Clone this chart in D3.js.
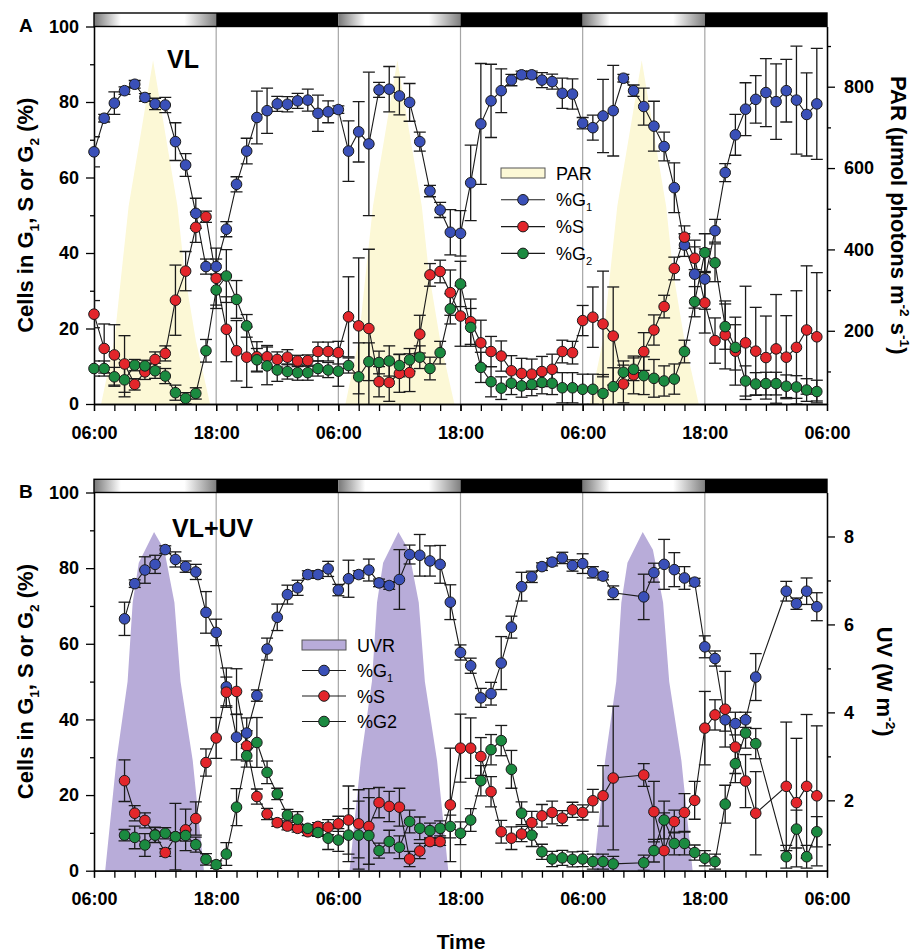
<!DOCTYPE html>
<html><head><meta charset="utf-8">
<script src="https://cdn.jsdelivr.net/npm/d3@7"></script>
<style>
body{margin:0;background:#fff}
svg{display:block}
text{font-family:Arial,"Liberation Sans",Helvetica,sans-serif}
</style>
</head><body>
<svg id="c" width="912" height="952"></svg>
<script>
// ---------------- DATA ----------------
const X_TICKS = [0,12,24,36,48,60,72];
const X_LABELS = ["06:00","18:00","06:00","18:00","06:00","18:00","06:00"];
const X_MINOR = [0,2,4,6,8,10,12,14,16,18,20,22,24,26,28,30,32,34,36,38,40,42,44,46,48,50,52,54,56,58,60,62,64,66,68,70,72];
const GRID_HOURS = [12,24,36,48,60];
const PERIOD_START = [0,12,24,36,48,60];
const PERIOD_TYPE = ["day","night","day","night","day","night"];
const Y_TICKS = [0,20,40,60,80,100];
const Y_MINOR = [10,30,50,70,90];

// Panel A (VL)
const HOURS_A = [0,1,2,3,4,5,6,7,8,9,10,11,12,13,14,15,16,17,18,19,20,21,22,23,24,25,26,27,28,29,30,31,32,33,34,35,36,37,38,39,40,41,42,43,44,45,46,47,48,49,50,51,52,53,54,55,56,57,58,59,60,61,62,63,64,65,66,67,68,69,70,71];
const G1_A = [66.8,75.7,79.7,83.0,84.7,81.2,79.5,79.2,69.5,63.3,
  50.5,36.4,36.4,46.3,58.2,67.0,75.9,77.7,79.5,79.4,
  80.3,80.5,77.0,77.4,78.0,67.0,72.1,68.9,83.2,83.4,
  81.6,79.9,69.5,56.4,51.4,45.5,45.2,58.6,74.2,80.3,
  83.0,85.8,87.2,87.2,85.8,85.4,82.3,82.1,74.4,73.2,
  76.3,77.7,86.3,83.0,78.8,73.6,68.2,57.3,42.1,34.4,
  33.1,45.9,61.3,71.3,78.1,80.7,82.5,80.1,83.0,80.5,
  76.7,79.5];
const G1_A_ERR = [4,1,3,1,1,1,1.5,2,5,3,
  4,2,2,2,2,3.4,7,6,2,2,
  2,2.9,4.8,2.9,1,8,8,19,2,6,
  5,5,2.5,1.5,2,6,6,10,16,9.7,
  5.8,1.5,1,1,2,2,4,4,1.5,3.3,
  9.7,12,1,1.5,4.9,6.6,3.8,6.6,3,9,
  8,3,2.4,5.4,7,6.3,9,10,8.3,14.3,
  11,14.7];
const S_A = [23.8,14.7,13.0,10.6,5.2,8.5,11.8,13.4,27.5,35.2,
  46.8,49.6,33.3,19.8,14.1,12.4,12.5,12.5,11.8,12.4,
  11.4,11.5,13.9,13.9,13.6,23.1,20.7,20.0,5.9,5.7,
  8.1,8.3,18.5,34.2,35.1,29.5,23.3,21.8,16.2,13.9,
  12.7,8.8,8.1,7.9,8.6,9.2,13.9,13.6,22.1,23.0,
  21.2,18.0,5.3,7.7,13.9,19.6,25.8,35.9,44.2,38.6,
  26.8,16.8,18.3,14.0,16.2,14.0,12.3,14.6,12.4,15.0,
  19.6,17.8];
const S_A_ERR = [3.6,6.5,8,7.5,1.5,2,2,2,9.3,5.2,
  4,1.5,8,8.6,8,8,4,3,2,2,
  1.5,1.5,2.5,2.5,3,10.6,18,21,4,5,
  5,5,5,3,3,6,8,6,6,4,
  4,4,4,4,4,4,3,3,4,8,
  14,13,5,5,5,4,3,3,3,3,
  8,6,9,9,15,11.6,11,14.4,11,15,
  17,17];
const G2_A = [9.4,9.4,7.2,6.4,10.3,10.1,8.8,7.4,3.0,1.5,
  2.8,14.1,30.2,33.9,27.7,20.7,11.7,10.1,9.0,8.6,
  8.3,8.3,9.4,9.0,8.7,10.2,7.2,11.2,11.0,11.4,
  10.2,11.7,12.4,9.4,13.6,25.2,31.8,20.3,9.7,5.9,
  4.2,5.5,4.8,5.2,5.7,5.5,4.3,4.3,3.9,3.9,
  2.8,4.6,8.4,9.2,7.5,6.8,6.1,6.6,13.9,27.1,
  40.1,37.4,20.5,15.0,6.1,5.3,5.4,5.4,4.7,4.5,
  3.7,3.3];
const G2_A_ERR = [2,2,2.5,4.5,1.5,1.5,2,2,2,1.5,
  1.5,3,4,7,5,3,3,5,3,2,
  2,2,2,2,4,2,9,5,3,4,
  3,3,3,3,3,4,6,5,4,4,
  3,3,3,3,3,3,4,4,4,4,
  5,5,3,3,5,5,4,4,3,4,
  5,5,6,6,4,3,3,3,3,3,
  3,3];
// PAR (µmol photons m-2 s-1), null separates days
const PAR_HOURS = [0.7,2.0,2.7,3.4,4.5,5.8,7.1,8.2,8.9,10.0,11.4, 11.5,
  24.7,26.0,26.7,27.4,28.5,29.8,31.1,32.2,32.9,34.0,35.4, 35.5,
  48.7,50.0,50.7,51.4,52.5,53.8,55.1,56.2,56.9,58.0,59.4];
const PAR_VALUES = [20,177,342,506,670,865,670,506,342,177,20, null,
  20,177,342,506,670,865,670,506,342,177,20, null,
  20,177,342,506,670,865,670,506,342,177,20];

// Panel B (VL+UV)
const HOURS_B = [3,4,5,6,7,8,9,10,11,12,13,14,15,16,17,18,19,20,21,22,23,24,25,26,27,28,29,30,31,32,33,34,35,36,37,38,39,40,41,42,43,44,45,46,47,48,49,50,51,
  54,55,56,57,58,59,60,61,62,63,64,65,68,69,70,71];
const G1_B = [66.6,75.9,79.5,81.0,84.9,82.3,80.4,79.0,68.3,63.0,
  48.6,35.3,36.4,46.3,58.6,67.0,73.0,74.8,78.3,78.3,
  79.8,74.2,77.2,78.3,79.5,76.1,75.4,77.0,83.6,83.4,
  81.9,81.0,71.0,57.7,54.2,45.7,46.8,54.9,64.4,75.1,
  77.7,80.4,81.6,82.7,80.7,81.2,78.9,77.9,73.5,
  72.4,78.8,81.0,79.6,77.4,76.3,59.2,56.1,39.9,38.9,39.9,51.2,
  73.9,70.6,73.9,69.8];
const G1_B_ERR = [4.4,1,3.5,2.4,1,2,1.5,2,5.5,3.5,
  5,6,4,1.5,2.9,3.5,2.5,2,1,1,
  2,1.5,4.9,1,2.9,1,1,7.9,2.5,5.5,
  4,5,4.6,2,2,2.5,3,7,2.9,3.8,
  1.5,1,1,1.5,1.5,2.6,1.5,1,1.8,
  6,2.5,6.6,4.5,3,1,2.9,2,3,3,2,6.2,
  2.6,1.5,3.5,3.7];
const S_B = [23.8,15.2,13.3,9.5,4.8,9.0,10.8,13.8,28.6,35.1,
  47.2,47.4,33.0,19.6,15.0,12.7,11.8,11.2,10.3,11.7,
  11.5,12.4,13.4,12.4,11.7,18.0,17.0,16.8,3.1,5.2,
  7.7,7.7,17.4,32.4,32.4,30.2,20.9,10.3,8.6,9.7,
  12.7,14.5,15.4,13.9,16.1,15.4,18.5,19.8,24.5,
  25.3,15.6,5.3,13.0,15.4,18.6,37.7,41.2,42.7,32.7,23.7,15.2,
  22.3,18.0,22.3,19.8];
const S_B_ERR = [5.5,2,2,2,1,8.8,5.5,4.4,3.6,5.4,
  4,6,4,2,1.5,1,1,1,1,1,
  2,2,9,9,10,4,4,5,2,2,
  1,1,15,9,8,5,4,3,3,2,
  3,3,3,2,2,2,3,8,19,
  3,8,10,3,5,5,9.7,4,10,7,7,11,
  17,17,19,18.5];
const G2_B = [9.4,8.8,6.8,9.4,9.9,9.0,9.3,6.9,3.0,1.6,
  4.4,16.8,30.4,33.9,26.0,20.3,14.7,13.6,11.2,10.1,
  8.6,8.1,9.4,9.4,9.3,5.3,7.7,6.2,13.0,11.2,
  10.6,11.2,11.7,9.9,13.4,23.8,32.0,34.4,26.8,15.2,
  9.4,5.0,3.1,3.4,3.0,3.1,2.4,2.4,1.8,
  2.1,5.3,13.4,7.2,7.2,4.8,3.3,2.4,17.6,28.3,36.4,33.6,
  3.7,11.0,3.7,10.3];
const G2_B_ERR = [1.5,3,3,2,1.5,1,1.5,2,1.5,1,
  3,4.9,3,6.6,3,1.5,1.5,2,1,1,
  3,3,7,9,10,2,3,3,3,3,
  2,2,3,3,3,4,4,4,5,3,
  3,2,2,2,2,2,2,2,2,
  2,3,5,3,3,2,2,2,5,5,4,4,
  3,5,3,4];
// UV (W m-2), null separates days
const UV_HOURS = [1.1,2.2,3.3,3.8,4.4,5.9,6.9,7.9,8.5,9.7,10.8, 10.9,
  25.1,26.2,27.3,27.8,28.4,29.9,30.9,31.9,32.5,33.7,34.8, 34.9,
  49.1,50.2,51.3,51.8,52.4,53.9,54.9,55.9,56.5,57.7,58.8];
const UV_VALUES = [0.4,2.9,4.7,6.5,7.4,8.1,7.7,6.5,4.7,2.9,0.4, null,
  0.4,2.9,4.7,6.5,7.4,8.1,7.7,6.5,4.7,2.9,0.4, null,
  0.4,2.9,4.7,6.5,7.4,8.1,7.7,6.5,4.7,2.9,0.4];

const PAR_TICKS = [200,400,600,800];
const PAR_MINOR = [100,300,500,700,900];
const UV_TICKS = [2,4,6,8];
const UV_MINOR = [1,3,5,7];

// ---------------- DRAWING ----------------
const BLUE = "#3a50b8", RED = "#e3262b", GREEN = "#1b8a40";
const svg = d3.select("#c");
const x = d3.scaleLinear().domain([0,72]).range([94,827]);

const defs = svg.append("defs");
const grad = defs.append("linearGradient").attr("id","dayGrad").attr("x1","0%").attr("x2","100%").attr("y1","0%").attr("y2","0%");
[["0%","#777"],["22%","#fff"],["74%","#fff"],["100%","#808080"]].forEach(s=>grad.append("stop").attr("offset",s[0]).attr("stop-color",s[1]));

function styleAxis(ag, fs){
  ag.attr("font-size",null).attr("font-family",null);
  ag.select(".domain").attr("stroke","#000").attr("stroke-width",1.3);
  ag.selectAll(".tick line").attr("stroke","#000").attr("stroke-width",1.3);
  ag.selectAll(".tick text").attr("fill","#000").style("font-size",fs+"px").style("font-weight","bold");
}

function richText(t, parts, size){
  // parts: strings or {sub:""} / {sup:""}; baseline restored on the following tspan
  let pending = 0;
  parts.forEach(p=>{
    if (typeof p === "string") {
      const s = t.append("tspan").text(p);
      if (pending) { s.attr("dy", pending); pending = 0; }
    } else if (p.sub !== undefined) {
      t.append("tspan").attr("dy", size*0.28 + pending).style("font-size",(size*0.62)+"px").text(p.sub);
      pending = -size*0.28;
    } else if (p.sup !== undefined) {
      t.append("tspan").attr("dy", -size*0.4 + pending).style("font-size",(size*0.62)+"px").text(p.sup);
      pending = size*0.4;
    }
  });
}

function drawPanel(p){
  const g = svg.append("g");
  const y = d3.scaleLinear().domain([0,100]).range([p.bottom,p.top]);
  const yR = d3.scaleLinear().domain(p.rDomain).range([p.bottom,p.top]);
  const clipId = "clip"+p.label;
  defs.append("clipPath").attr("id",clipId).append("rect")
    .attr("x",x(0)).attr("y",p.top).attr("width",x(72)-x(0)).attr("height",p.bottom-p.top);

  // light profile
  const lightData = p.lightHours.map((h,i)=>({h:h, v:p.lightValues[i]}));
  const area = d3.area().defined(d=>d.v!==null).x(d=>x(d.h)).y0(yR(p.rDomain[0])).y1(d=>yR(d.v));
  g.append("path").datum(lightData).attr("d",area).attr("fill",p.lightColor).attr("clip-path",`url(#${clipId})`);

  // grid lines
  g.selectAll(".grid").data(GRID_HOURS).enter().append("line")
    .attr("x1",d=>x(d)).attr("x2",d=>x(d)).attr("y1",p.top).attr("y2",p.bottom)
    .attr("stroke","#a5a5a5").attr("stroke-width",1.2);

  // day/night bar
  g.selectAll(".period").data(PERIOD_START).enter().append("rect")
    .attr("x",d=>x(d)).attr("width",d=>x(d+12)-x(d))
    .attr("y",p.barTop).attr("height",p.top-p.barTop)
    .attr("fill",(d,i)=>PERIOD_TYPE[i]==="day" ? "url(#dayGrad)" : "#000");
  g.append("rect").attr("x",x(0)).attr("width",x(72)-x(0)).attr("y",p.barTop).attr("height",p.top-p.barTop)
    .attr("fill","none").attr("stroke","#000").attr("stroke-width",1.4);

  // axes
  const la = g.append("g").attr("transform",`translate(${x(0)},0)`)
    .call(d3.axisLeft(y).tickValues(Y_TICKS).tickSize(8).tickSizeOuter(0).tickPadding(7).tickFormat(d3.format("d")));
  styleAxis(la,18);
  const lm = g.append("g").attr("transform",`translate(${x(0)},0)`)
    .call(d3.axisLeft(y).tickValues(Y_MINOR).tickSize(4).tickSizeOuter(0).tickFormat(""));
  styleAxis(lm,18);
  const ra = g.append("g").attr("transform",`translate(${x(72)},0)`)
    .call(d3.axisRight(yR).tickValues(p.rTicks).tickSize(8).tickSizeOuter(0).tickPadding(9).tickFormat(d3.format("d")));
  styleAxis(ra,18);
  const rm = g.append("g").attr("transform",`translate(${x(72)},0)`)
    .call(d3.axisRight(yR).tickValues(p.rMinor).tickSize(4).tickSizeOuter(0).tickFormat(""));
  styleAxis(rm,18);
  const ba = g.append("g").attr("transform",`translate(0,${p.bottom})`)
    .call(d3.axisBottom(x).tickValues(X_TICKS).tickSize(7).tickSizeOuter(0).tickPadding(15).tickFormat((d,i)=>X_LABELS[i]));
  styleAxis(ba,18);
  const bm = g.append("g").attr("transform",`translate(0,${p.bottom})`)
    .call(d3.axisBottom(x).tickValues(X_MINOR).tickSize(7).tickSizeOuter(0).tickFormat(""));
  styleAxis(bm,18);

  // series
  const series = p.series;
  const errG = g.append("g").attr("clip-path",`url(#${clipId})`);
  series.forEach(s=>{
    const pts = p.hours.map((h,i)=>({h:h, v:s.values[i], e:s.errors[i]}));
    const eg = errG.append("g").attr("stroke","#1a1a1a").attr("stroke-width",1.3);
    pts.forEach(d=>{
      const yt = y(d.v+d.e), yb = y(d.v-d.e), cx = x(d.h);
      eg.append("line").attr("x1",cx).attr("x2",cx).attr("y1",yt).attr("y2",yb);
      eg.append("line").attr("x1",cx-6).attr("x2",cx+6).attr("y1",yt).attr("y2",yt);
      eg.append("line").attr("x1",cx-6).attr("x2",cx+6).attr("y1",yb).attr("y2",yb);
    });
  });
  series.forEach(s=>{
    const pts = p.hours.map((h,i)=>({h:h, v:s.values[i]}));
    g.append("path").datum(pts)
      .attr("d",d3.line().x(d=>x(d.h)).y(d=>y(d.v)))
      .attr("fill","none").attr("stroke","#1a1a1a").attr("stroke-width",1.1);
  });
  series.forEach(s=>{
    const pts = p.hours.map((h,i)=>({h:h, v:s.values[i]}));
    g.selectAll(null).data(pts).enter().append("circle")
      .attr("cx",d=>x(d.h)).attr("cy",d=>y(d.v)).attr("r",5.3)
      .attr("fill",s.color).attr("stroke","#1a1a1a").attr("stroke-width",1);
  });

  // legend
  const L = p.legend;
  g.append("rect").attr("x",L.x).attr("y",L.y-5).attr("width",44).attr("height",10)
    .attr("fill",p.lightColor).attr("stroke","#555").attr("stroke-width",1);
  g.append("text").attr("x",L.x+55).attr("y",L.y+6.5).style("font-size","18px").text(p.lightName);
  p.series.forEach((s,i)=>{
    const yy = L.y + (i+1)*L.dy;
    g.append("line").attr("x1",L.x).attr("x2",L.x+44).attr("y1",yy).attr("y2",yy).attr("stroke","#1a1a1a").attr("stroke-width",1.1);
    g.append("circle").attr("cx",L.x+22).attr("cy",yy).attr("r",5.3).attr("fill",s.color).attr("stroke","#1a1a1a");
    const t = g.append("text").attr("x",L.x+55).attr("y",yy+6.5).style("font-size","18px");
    richText(t, s.label, 18);
  });

  // texts
  g.append("text").attr("x",p.condX).attr("y",p.condY).style("font-size",p.condSize+"px").style("font-weight","bold").text(p.cond);
  g.append("text").attr("x",19).attr("y",p.labelY).style("font-size","19px").style("font-weight","bold").text(p.label);
  const lt = g.append("text").attr("transform",`translate(33,${(p.top+p.bottom)/2}) rotate(-90)`)
    .attr("text-anchor","middle").style("font-size","22px").style("font-weight","bold");
  richText(lt, ["Cells in G",{sub:"1"},", S or G",{sub:"2"}," (%)"], 22);
  const rt = g.append("text").attr("transform",`translate(${p.rTitleX},${(p.top+p.bottom)/2}) rotate(90)`)
    .attr("text-anchor","middle").style("font-size","22px").style("font-weight","bold");
  richText(rt, p.rTitle, 22);
}

drawPanel({
  label:"A", labelY:32, top:26.5, bottom:404, barTop:13,
  rDomain:[20,948], rTicks:PAR_TICKS, rMinor:PAR_MINOR,
  lightHours:PAR_HOURS, lightValues:PAR_VALUES, lightColor:"#fcf8d6", lightName:"PAR",
  hours:HOURS_A,
  series:[
    {values:G1_A, errors:G1_A_ERR, color:BLUE, label:["%G",{sub:"1"}]},
    {values:S_A, errors:S_A_ERR, color:RED, label:["%S"]},
    {values:G2_A, errors:G2_A_ERR, color:GREEN, label:["%G",{sub:"2"}]}
  ],
  legend:{x:501, y:173, dy:26.8},
  cond:"VL", condX:167, condY:68, condSize:25,
  rTitle:["PAR (\u00B5mol photons m",{sup:"-2"}," s",{sup:"-1"},")"], rTitleX:891
});

drawPanel({
  label:"B", labelY:498, top:492.5, bottom:870.7, barTop:479.3,
  rDomain:[0.4,9.0], rTicks:UV_TICKS, rMinor:UV_MINOR,
  lightHours:UV_HOURS, lightValues:UV_VALUES, lightColor:"#b8acd9", lightName:"UVR",
  hours:HOURS_B,
  series:[
    {values:G1_B, errors:G1_B_ERR, color:BLUE, label:["%G",{sub:"1"}]},
    {values:S_B, errors:S_B_ERR, color:RED, label:["%S"]},
    {values:G2_B, errors:G2_B_ERR, color:GREEN, label:["%G2"]}
  ],
  legend:{x:302, y:645, dy:25.5},
  cond:"VL+UV", condX:172, condY:537, condSize:25,
  rTitle:["UV (W m",{sup:"-2"},")"], rTitleX:877
});

svg.append("text").attr("x",461).attr("y",949).attr("text-anchor","middle")
  .style("font-size","21px").style("font-weight","bold").text("Time");
</script>
</body></html>
